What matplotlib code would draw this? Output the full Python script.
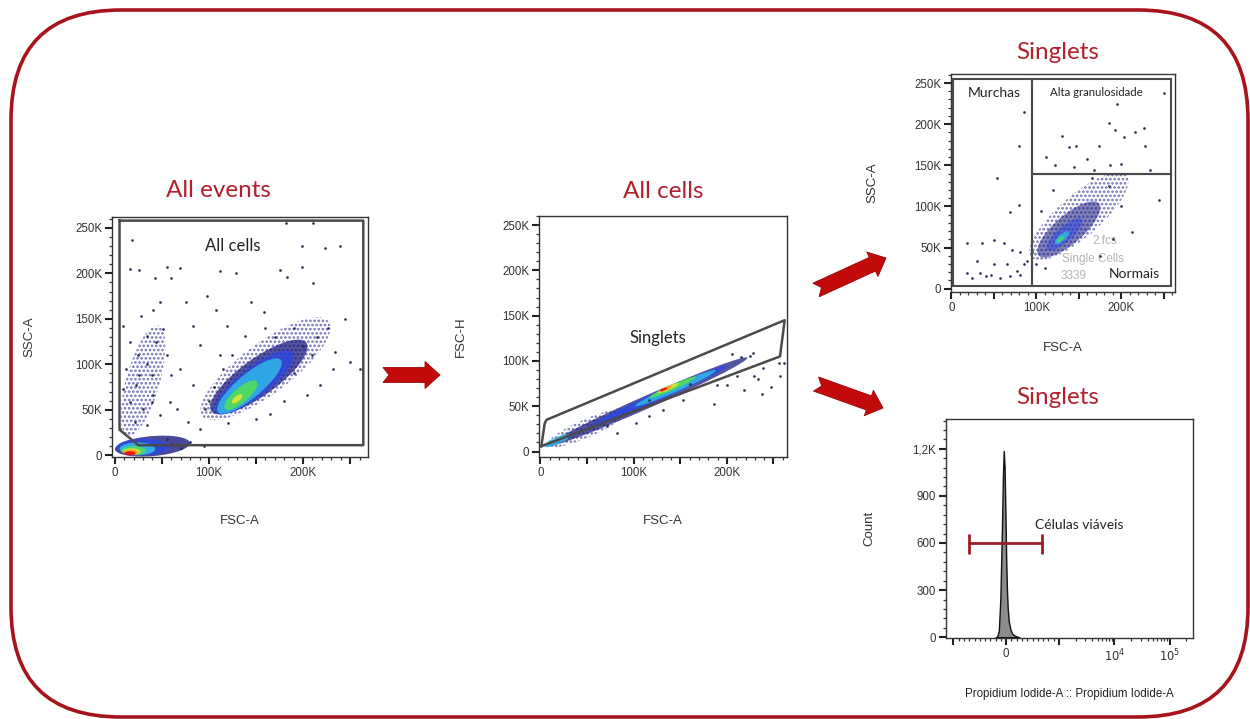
import numpy as np
import matplotlib
matplotlib.use('Agg')
import matplotlib.pyplot as plt
from matplotlib.patches import Ellipse, Polygon, Rectangle, FancyBboxPatch
from matplotlib.ticker import FixedLocator, MultipleLocator

TITLE_RED = '#b3202c'
BORDER_RED = '#a8141c'
ARROW_RED = '#c20a0a'
GATE_GREY = '#4a4a4a'
# pseudocolour density levels (navy -> red)
LEVEL_COLORS = ['#1c1c82', '#2a48e6', '#30b8e8', '#52dc5a', '#d4e434', '#ff9626', '#e41a1a']
plt.rcParams['hatch.linewidth'] = 1.3

# ---------------- data (scatter values in thousands) ----------------
k_ticks = [0, 50, 100, 150, 200, 250]
k_labels = ['0', '50K', '100K', '150K', '200K', '250K']
k_xlabels = ['0', '', '100K', '', '200K', '']

# panel 1: All events (FSC-A vs SSC-A)
p1_dot_x = [17.8, 16, 26, 42.6, 55, 69, 60, 112, 129, 175, 183, 199, 211, 223, 239, 199, 182, 211,
            245, 250, 261, 234, 227, 232, 218, 204,
            76, 83, 97.5, 108, 119, 90, 112, 69, 83, 66, 96, 145, 159, 138, 78, 90,
            9, 16, 25, 34, 40, 41, 23, 16, 30, 44, 51, 55, 60, 12, 21, 34, 48, 59, 6, 9, 28, 41, 48, 34, 40, 26,
            100, 105, 115, 125, 170, 190, 200, 210, 180, 165, 190, 215, 160, 120, 150,
            60, 70, 80, 95, 55]
p1_dot_y = [237, 205, 204, 195, 207, 206, 195, 203, 200, 204, 196, 207, 189, 228, 230, 230, 255, 255,
            150, 102, 95, 113, 140, 95, 77, 66,
            168, 142, 175, 160, 142, 121, 110, 95, 77, 51, 51, 168, 157, 131, 36, 29,
            142, 124, 110, 100, 88, 66, 77, 59, 51, 124, 139, 110, 88, 95, 36, 33, 44, 58, 29, 73, 153, 160, 168, 131, 58, 88,
            60, 75, 95, 110, 130, 140, 120, 110, 60, 45, 90, 130, 140, 35, 40,
            12, 8, 15, 10, 18]
# density blobs: centre, full width / height, angle (deg), level, opacity (0 = dotted halo)
p1_blob_cx = [160, 153, 148, 143, 134, 130, 30, 40, 30, 24, 20, 18, 17, 16]
p1_blob_cy = [95, 86, 80, 76, 66, 62, 82, 10, 9, 7, 5, 4, 3, 2]
p1_blob_w = [170, 126, 105, 88, 45, 14, 125, 80, 55, 38, 26, 18, 15, 12]
p1_blob_h = [55, 40, 32, 26, 16, 6, 36, 22, 18, 14, 10, 7, 6, 4.5]
p1_blob_ang = [38, 37, 39, 41, 42, 42, 75, 5, 0, 0, 0, 0, 0, 0]
p1_blob_lvl = [0, 0, 1, 2, 3, 4, 0, 0, 1, 2, 3, 4, 5, 6]
p1_blob_alpha = [0, 0.75, 0.7, 0.85, 0.9, 1, 0, 0.8, 0.8, 0.9, 0.9, 1, 1, 1]
p1_gate_x = [5, 264, 264, 25, 5, 5]
p1_gate_y = [258, 258, 11, 11, 28, 258]

# panel 2: All cells (FSC-A vs FSC-H)
p2_dot_x = [211, 229, 256, 257, 233, 247, 238, 218, 189, 200, 186, 153, 132, 117, 103, 82, 71,
            225, 228, 239, 261, 160, 117, 205, 215]
p2_dot_y = [83, 83, 98, 83, 80, 71, 63, 68, 74, 74, 53, 57, 46, 39, 31, 20, 28,
            105, 109, 92, 98, 75, 57, 108, 104]
p2_blob_cx = [115, 50, 128, 145, 18, 142, 137, 134, 132]
p2_blob_cy = [55, 26, 62, 70, 12, 71, 70, 69, 68.5]
p2_blob_w = [235, 95, 160, 95, 30, 55, 25, 15, 8]
p2_blob_h = [14, 20, 9, 8, 8, 6, 4.5, 3.5, 2.5]
p2_blob_ang = [24.4] * 9
p2_blob_lvl = [0, 0, 1, 2, 2, 3, 4, 5, 6]
p2_blob_alpha = [0.75, 0, 0.8, 0.85, 0.8, 0.9, 1, 1, 1]
p2_gate_x = [1, 4.6, 6.5, 262, 257, 1]
p2_gate_y = [6, 31, 35, 145, 105, 6]

# panel 3: Singlets (FSC-A vs SSC-A)
p3_dot_x = [130, 138, 147, 174, 185, 193, 195, 203, 216, 226, 228, 122, 160, 187, 199, 234, 244, 213,
            250, 111, 144, 168,
            85, 80, 54, 80, 69, 18, 36, 50, 62, 71, 81, 30, 50, 65, 77, 85, 18, 34, 41, 57, 69, 81, 89, 24, 47,
            100, 95, 110, 190, 175, 200, 185, 165, 120, 105]
p3_dot_y = [186, 172, 174, 174, 201, 193, 225, 185, 191, 195, 174, 150, 158, 150, 152, 144, 108, 69,
            238, 160, 148, 144,
            215, 173, 134, 102, 93, 55, 55, 59, 55, 47, 45, 34, 30, 30, 22, 30, 19, 19, 15, 13, 15, 17, 34, 13, 17,
            30, 45, 25, 60, 40, 100, 125, 135, 120, 95]
p3_blob_cx = [150, 138, 133, 130, 128]
p3_blob_cy = [88, 72, 66, 62, 60]
p3_blob_w = [150, 95, 55, 22, 10]
p3_blob_h = [50, 34, 18, 8, 4]
p3_blob_ang = [42] * 5
p3_blob_lvl = [0, 0, 1, 2, 3]
p3_blob_alpha = [0, 0.55, 0.5, 0.8, 0.9]
p3_gates = {'Murchas': (2, 3, 93, 252), 'Alta granulosidade': (95, 140, 163, 115),
            'Normais': (95, 3, 163, 137)}

# panel 4: Propidium Iodide histogram
pi_x = [-200, -172, -140, -110, -80, -60, -46, -30, -15, 0, 15, 30, 50, 80, 110, 150, 211, 250]
pi_count = [0, 3, 40, 250, 700, 1050, 1186, 1080, 800, 500, 300, 180, 100, 50, 25, 12, 3, 0]
viable_gate = (-702, 674)
viable_level = 600
count_ticks = [0, 300, 600, 900, 1200]
count_labels = ['0', '300', '600', '900', '1,2K']

# ---------------- figure ----------------
fig = plt.figure(figsize=(12.5, 7.19), dpi=100)
over = fig.add_axes([0, 0, 1, 1])
over.set_xlim(0, 1250)
over.set_ylim(719, 0)
over.axis('off')

over.add_patch(FancyBboxPatch((11, 10), 1237, 707, boxstyle='round,pad=0,rounding_size=110',
                              fill=False, ec=BORDER_RED, lw=2.6))


def block_arrow(ax, tail, tip, w=7.5, hw=13.5, hl=15, notch=6):
    p0 = np.array(tail, float)
    p1 = np.array(tip, float)
    u = (p1 - p0) / np.linalg.norm(p1 - p0)
    v = np.array([-u[1], u[0]])
    base = p1 - u * hl
    pts = [p0 + v * w, base + v * w, base + v * hw, p1, base - v * hw, base - v * w,
           p0 - v * w, p0 + u * notch]
    ax.add_patch(Polygon(pts, closed=True, fc=ARROW_RED, ec='#9a0606', lw=0.6))


block_arrow(over, (383, 375), (440, 375))
block_arrow(over, (816, 290), (886, 258))
block_arrow(over, (816, 384), (883, 408))

tick_font = ['Liberation Sans', 'DejaVu Sans']
title_font = ['Lato', 'DejaVu Sans']


def style_axes(ax):
    for sp in ax.spines.values():
        sp.set_linewidth(1.0)
        sp.set_color('#333333')
    ax.tick_params(which='major', direction='out', length=5, width=1.5, color='#222',
                   labelsize=8.3, pad=2, top=False, right=False)
    ax.tick_params(which='minor', direction='out', length=2.5, width=0.9, color='#333',
                   top=False, right=False)
    for lab in ax.get_xticklabels() + ax.get_yticklabels():
        lab.set_family(tick_font)
        lab.set_color('#333')


def scatter_panel(rect, xlim, ylim, dot_x, dot_y, cx, cy, w, h, ang, lvl, alpha):
    ax = fig.add_axes(rect)
    ax.set_xlim(*xlim)
    ax.set_ylim(*ylim)
    for i in range(len(cx)):
        if alpha[i] == 0:
            # sparse region: dotted texture
            ax.add_patch(Ellipse((cx[i], cy[i]), w[i], h[i], angle=ang[i], fill=False,
                                 hatch='....', ec=LEVEL_COLORS[lvl[i]], lw=0, alpha=0.6, zorder=2))
        else:
            ax.add_patch(Ellipse((cx[i], cy[i]), w[i], h[i], angle=ang[i], fc=LEVEL_COLORS[lvl[i]],
                                 ec='none', alpha=alpha[i], zorder=2))
    ax.scatter(dot_x, dot_y, s=3.5, c='#26264f', lw=0, zorder=3)
    ax.xaxis.set_major_locator(FixedLocator(k_ticks))
    ax.yaxis.set_major_locator(FixedLocator(k_ticks))
    ax.set_xticklabels(k_xlabels)
    ax.set_yticklabels(k_labels)
    ax.xaxis.set_minor_locator(MultipleLocator(10))
    ax.yaxis.set_minor_locator(MultipleLocator(10))
    style_axes(ax)
    return ax


def labels(ax, title, tx, ty, xlab, xly, ylab, ylx):
    ax.text(tx, ty, title, transform=ax.transAxes, ha='center', va='center',
            fontsize=17.5, color=TITLE_RED, family=title_font)
    ax.set_xlabel(xlab, fontsize=9.5, family=tick_font, color='#333')
    ax.set_ylabel(ylab, fontsize=9.5, family=tick_font, color='#333')
    ax.xaxis.set_label_coords(0.5, xly)
    ax.yaxis.set_label_coords(ylx, 0.5)


# panel 1
ax1 = scatter_panel([0.0896, 0.3644, 0.2048, 0.3338], (-3, 269), (-2, 262),
                    p1_dot_x, p1_dot_y, p1_blob_cx, p1_blob_cy, p1_blob_w, p1_blob_h,
                    p1_blob_ang, p1_blob_lvl, p1_blob_alpha)
ax1.plot(p1_gate_x, p1_gate_y, color=GATE_GREY, lw=1.8, zorder=4)
ax1.text(125, 230, 'All cells', ha='center', va='center', fontsize=12, family=title_font, color='#222')
labels(ax1, 'All events', 0.414, 1.11, 'FSC-A', -0.24, 'SSC-A', -0.30)

# panel 2
ax2 = scatter_panel([0.4312, 0.3644, 0.1984, 0.3352], (-1.5, 264.5), (-6, 260),
                    p2_dot_x, p2_dot_y, p2_blob_cx, p2_blob_cy, p2_blob_w, p2_blob_h,
                    p2_blob_ang, p2_blob_lvl, p2_blob_alpha)
ax2.plot(p2_gate_x, p2_gate_y, color=GATE_GREY, lw=1.8, zorder=4)
ax2.text(126, 125, 'Singlets', ha='center', va='center', fontsize=12, family=title_font, color='#222')
labels(ax2, 'All cells', 0.5, 1.10, 'FSC-A', -0.24, 'FSC-H', -0.29)

# panel 3
ax3 = scatter_panel([0.7608, 0.5939, 0.1792, 0.3032], (-0.5, 263), (-4, 261),
                    p3_dot_x, p3_dot_y, p3_blob_cx, p3_blob_cy, p3_blob_w, p3_blob_h,
                    p3_blob_ang, p3_blob_lvl, p3_blob_alpha)
for name, (gx, gy, gw, gh) in p3_gates.items():
    ax3.add_patch(Rectangle((gx, gy), gw, gh, fill=False, ec=GATE_GREY, lw=1.5, zorder=4))
ax3.text(50, 238, 'Murchas', ha='center', va='center', fontsize=10, family=title_font, color='#222')
ax3.text(171, 239, 'Alta granulosidade', ha='center', va='center', fontsize=8.2,
         family=title_font, color='#222')
ax3.text(215, 18, 'Normais', ha='center', va='center', fontsize=10, family=title_font, color='#222')
for txt, tx, ty in [('2.fcs', 181, 58), ('Single Cells', 167, 36), ('3339', 144, 15)]:
    ax3.text(tx, ty, txt, ha='center', va='center', fontsize=8.5, family=tick_font,
             color='#b4b4b4', zorder=1)
labels(ax3, 'Singlets', 0.478, 1.10, 'FSC-A', -0.228, 'SSC-A', -0.326)

# panel 4
ax4 = fig.add_axes([0.7568, 0.1127, 0.1976, 0.3046])
ax4.set_xscale('symlog', linthresh=1000, linscale=0.855)
ax4.set_xlim(-1365, 262144)
ax4.set_ylim(-5, 1390)
ax4.fill_between(pi_x, pi_count, color='#8c8c8c', ec='#111111', lw=1.0, zorder=2)
ax4.plot(viable_gate, [viable_level] * 2, color='#a01c24', lw=2, zorder=3)
ax4.vlines(viable_gate, viable_level - 70, viable_level + 60, color='#a01c24', lw=2, zorder=3)
ax4.text(2350, 712, 'Células viáveis', ha='center', va='center', fontsize=10,
         family=title_font, color='#222')
ax4.xaxis.set_major_locator(FixedLocator([-1000, 0, 1000, 10000, 100000]))
ax4.set_xticklabels(['', '0', '', '$10^4$', '$10^5$'])
minor_x = list(range(-900, 1000, 100)) + [m * 1000 for m in range(2, 10)] + \
    [m * 10000 for m in range(2, 10)] + [200000]
ax4.xaxis.set_minor_locator(FixedLocator(minor_x))
ax4.yaxis.set_major_locator(FixedLocator(count_ticks))
ax4.set_yticklabels(count_labels)
ax4.yaxis.set_minor_locator(MultipleLocator(60))
style_axes(ax4)
ax4.text(0.453, 1.096, 'Singlets', transform=ax4.transAxes, ha='center', va='center',
         fontsize=17.5, color=TITLE_RED, family=title_font)
ax4.set_xlabel('Propidium Iodide-A :: Propidium Iodide-A', fontsize=8.3, family=tick_font, color='#222')
ax4.set_ylabel('Count', fontsize=9.5, family=tick_font, color='#333')
ax4.xaxis.set_label_coords(0.5, -0.23)
ax4.yaxis.set_label_coords(-0.287, 0.5)

fig.savefig('out.png', dpi=100)
